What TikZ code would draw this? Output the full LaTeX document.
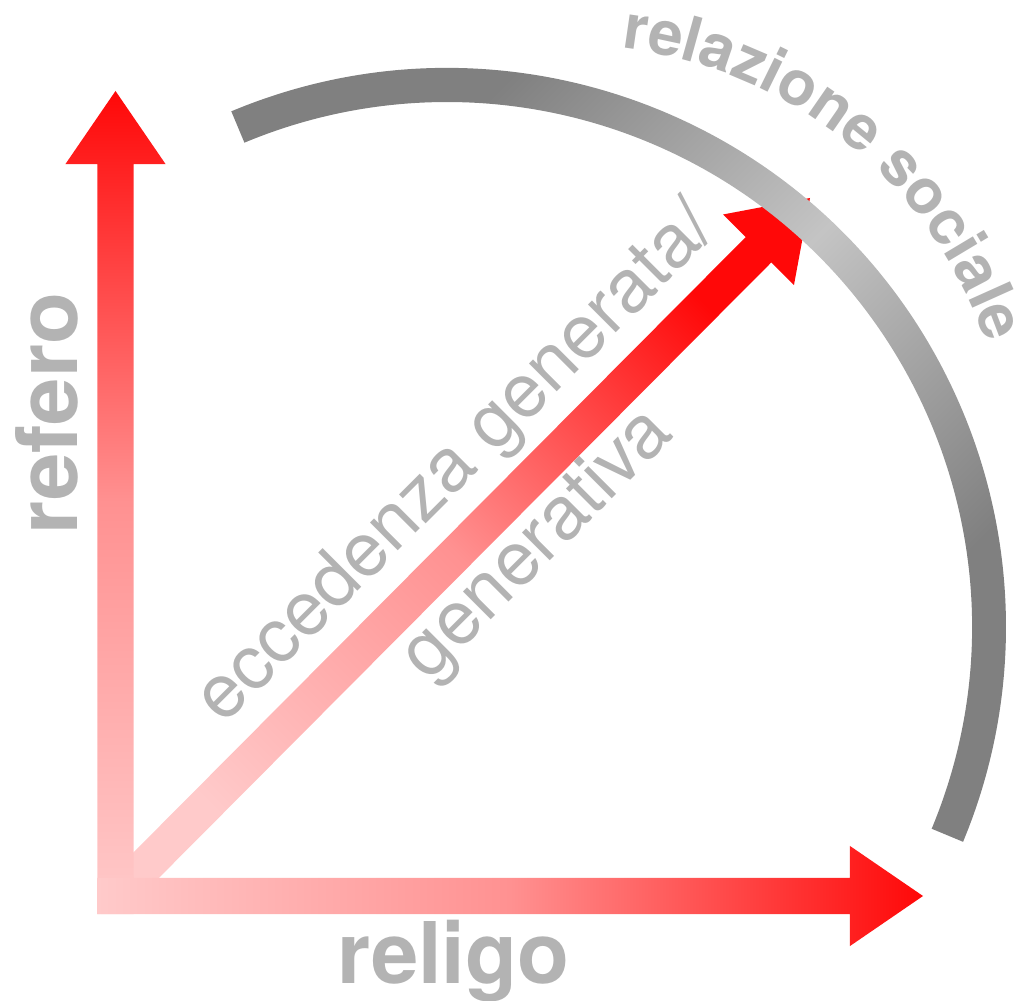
\documentclass[tikz,border=0pt]{standalone}
\usepackage{fontspec}
\setmainfont{TeX Gyre Heros}
\usetikzlibrary{calc,decorations.text}

\definecolor{arrowred}{RGB}{255,8,8}
\definecolor{arrowmid}{RGB}{255,145,145}
\definecolor{arrowpink}{RGB}{255,202,202}
\definecolor{banddark}{RGB}{128,128,128}
\definecolor{bandlight}{RGB}{196,196,196}
\definecolor{labelgray}{RGB}{179,179,179}

\pgfdeclarehorizontalshading{bandshade}{100bp}{color(0bp)=(banddark); color(30bp)=(banddark);
  color(50bp)=(bandlight); color(70bp)=(banddark); color(100bp)=(banddark)}

\newcommand{\shafthalf}{0.18cm}
\newcommand{\headhalf}{0.50cm}
\newcommand{\headlen}{0.73cm}
% block arrow: #1 shading, #2 tail, #3 tip
\newcommand{\blockarrow}[3]{%
  \coordinate (neck) at ($(#3)!\headlen!(#2)$);
  \path[#1] ($(#2)!\shafthalf!-90:(#3)$) -- ($(neck)!\shafthalf!-90:(#3)$)
    -- ($(neck)!\headhalf!-90:(#3)$) -- (#3)
    -- ($(neck)!\headhalf!90:(#3)$) -- ($(neck)!\shafthalf!90:(#3)$)
    -- ($(#2)!\shafthalf!90:(#3)$) -- cycle;}

\begin{document}
\begin{tikzpicture}[
  x=0.01cm, y=0.01cm,
  axislabel/.style={text=labelgray,font=\fontsize{0.85cm}{1cm}\selectfont\bfseries},
  redfade/.style={bottom color=arrowpink,top color=arrowred,middle color=arrowmid}
]
\useasboundingbox (0,0) rectangle (1025,1000);
\coordinate (origin)       at (115.5,104);
\coordinate (refero tail)  at (115.5,86);
\coordinate (refero tip)   at (115.5,909);
\coordinate (religo tail)  at (97,104);
\coordinate (religo tip)   at (923,104);
\coordinate (excess tip)   at (810,802);
\coordinate (band centre)  at (447,373);
\coordinate (text centre)  at (570,515);

\node[rotate=45,align=center,text=labelgray,
      font=\fontsize{0.75cm}{1.14cm}\selectfont] (excess) at (498,495)
     {eccedenza generata/\\generativa};

\blockarrow{redfade,shading angle=-45}{origin}{excess tip}
\blockarrow{redfade}{refero tail}{refero tip}
\blockarrow{redfade,shading angle=-90}{religo tail}{religo tip}

% grey band
\shade[shading=bandshade,shading angle=-45]
  ([shift={(112.7:559)}]band centre) arc[start angle=112.7,end angle=-22.6,radius=559]
  -- ([shift={(-22.6:525)}]band centre) arc[start angle=-22.6,end angle=112.7,radius=525]
  -- cycle;

\node[axislabel,rotate=90,anchor=base] (refero) at (78,586.5) {refero};
\node[axislabel,anchor=base] (religo) at (453.5,17) {religo};
\path[decorate,decoration={text along path,text align=center,
  text={|\fontsize{0.62cm}{0.7cm}\selectfont\bfseries\color{labelgray}|relazione sociale}}]
  ([shift={(110:440)}]text centre) arc[start angle=110,end angle=-8,radius=440];
\end{tikzpicture}
\end{document}
